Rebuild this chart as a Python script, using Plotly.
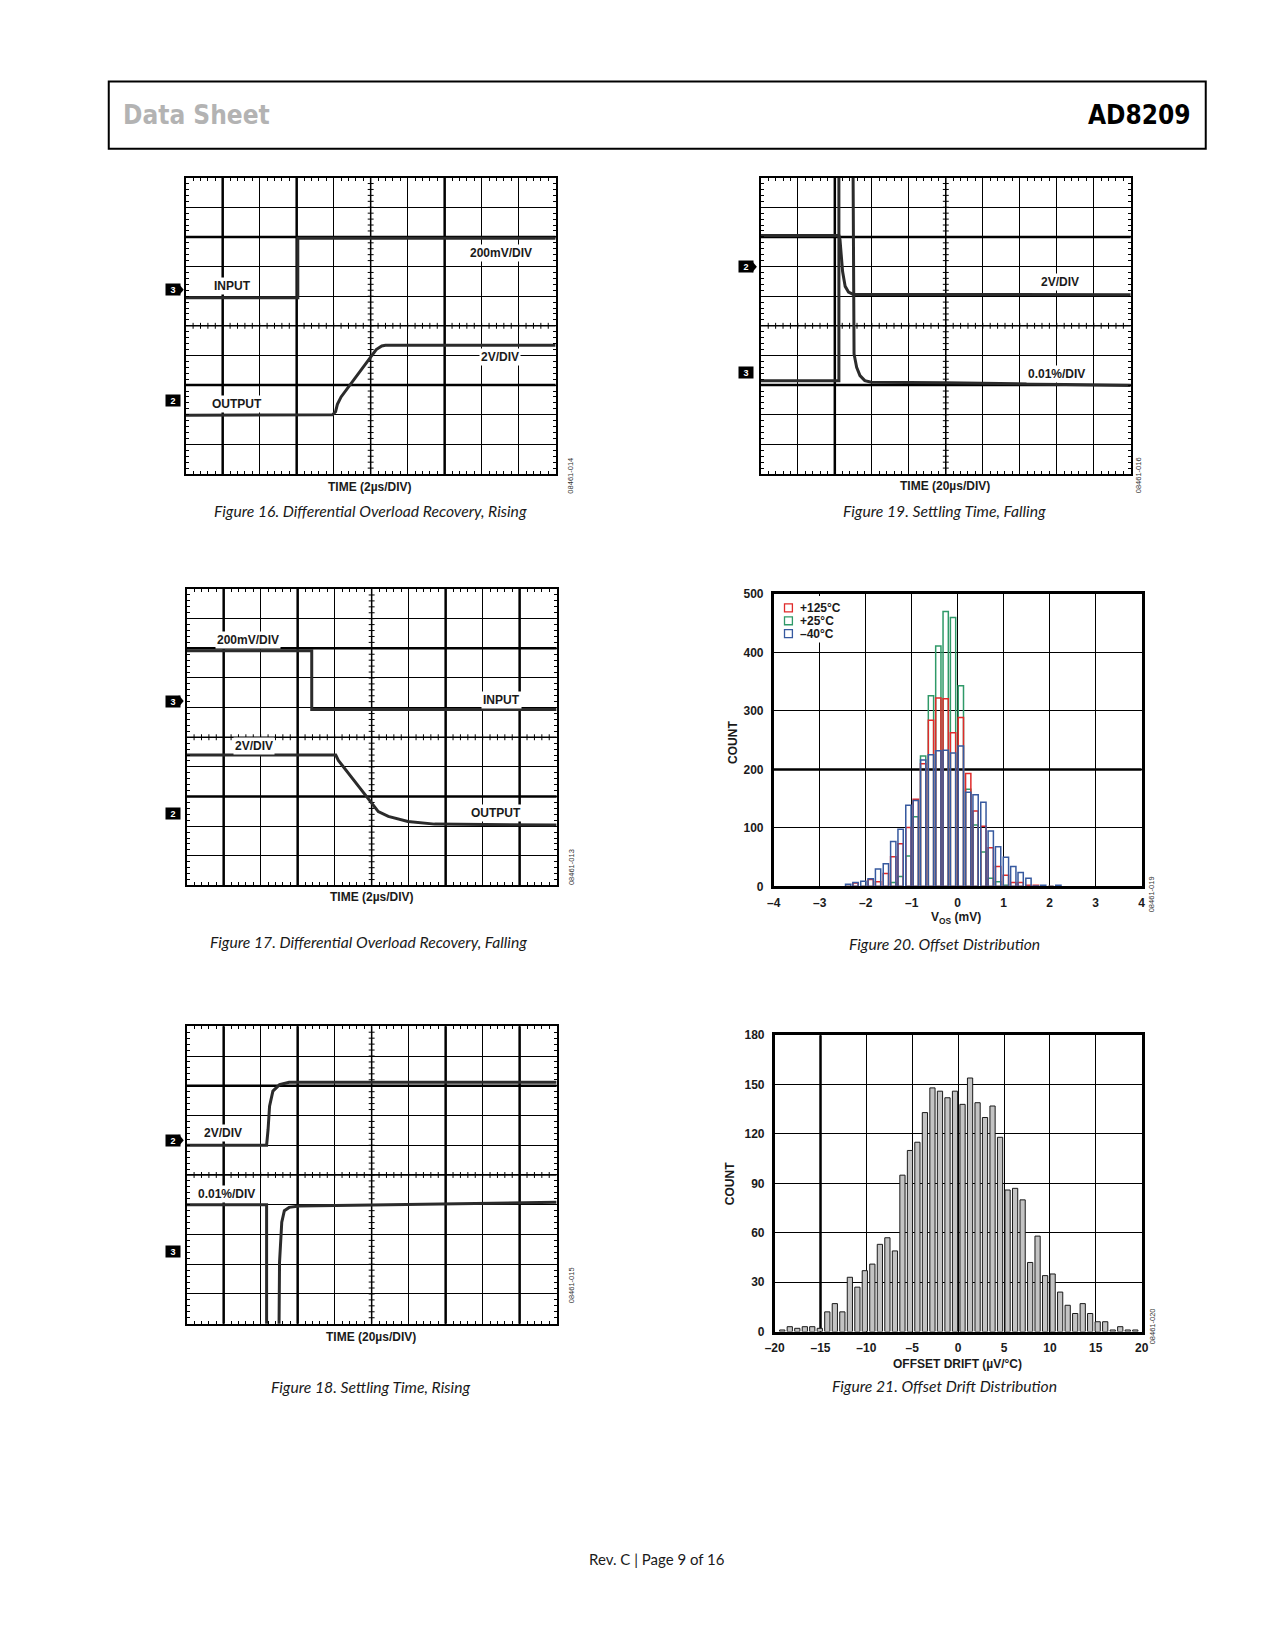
import plotly.graph_objects as go

# the page keeps an 8px body margin, so the figure is drawn 8px in from the corner
PAGE_PAD = 8
W, H = 1275 - 2 * PAGE_PAD, 1650 - 2 * PAGE_PAD


def px(x):
    return (x - PAGE_PAD) / W


def py(y):
    return 1 - (y - PAGE_PAD) / H


# ---------------- scope traces (x, y in screen divisions, 10 x 10 grid) -------------
# Figure 16: differential overload recovery, rising
f16_in_t = [0, 3.03, 3.03, 10]
f16_in_v = [5.95, 5.95, 7.95, 7.95]
f16_out_t = [0, 3.8, 3.97, 4.05, 4.1, 4.2, 5.0, 5.15, 5.3, 5.4, 10]
f16_out_v = [1.98, 1.98, 2.0, 2.1, 2.35, 2.6, 3.95, 4.2, 4.32, 4.34, 4.34]

# Figure 19: settling time, falling
f19_ch2_t = [0, 2.11, 2.14, 2.21, 2.28, 2.37, 2.5, 10]
f19_ch2_v = [8.05, 8.05, 7.9, 6.83, 6.33, 6.14, 6.06, 6.05]
f19_ch3_t = [0, 2.11, 2.11, None, 2.49, 2.52, 2.59, 2.68, 2.81, 2.99, 5.0, 7.0, 10]
f19_ch3_v = [3.15, 3.15, 11, None, 11, 4.05, 3.6, 3.32, 3.15, 3.1, 3.08, 3.05, 2.99]

# Figure 17: differential overload recovery, falling
f17_in_t = [0, 3.38, 3.38, 10]
f17_in_v = [7.92, 7.92, 5.94, 5.94]
f17_out_t = [0, 4.03, 4.1, 5.0, 5.18, 5.45, 5.98, 6.7, 10]
f17_out_v = [4.4, 4.4, 4.22, 2.78, 2.49, 2.33, 2.16, 2.07, 2.04]

# Figure 18: settling time, rising
f18_ch2_t = [0, 2.16, 2.2, 2.24, 2.33, 2.51, 2.77, 10]
f18_ch2_v = [6.0, 6.0, 6.53, 7.31, 7.82, 8.04, 8.12, 8.12]
f18_ch3_t = [0, 2.16, 2.16, None, 2.49, 2.51, 2.57, 2.64, 2.77, 3.04, 5.0, 10]
f18_ch3_v = [4.0, 4.0, -1, None, -1, 2.07, 3.41, 3.8, 3.91, 3.96, 3.99, 4.08]

# ---------------- Figure 20: offset distribution -------------
vos_mv = [-2.38, -2.22, -2.05, -1.89, -1.73, -1.56, -1.40, -1.24, -1.07, -0.91,
          -0.75, -0.58, -0.42, -0.26, -0.10, 0.07, 0.23, 0.39, 0.56, 0.72,
          0.88, 1.05, 1.21, 1.37, 1.54, 1.70, 1.86, 2.03, 2.19]
count_125 = [0, 6, 0, 12, 8, 22, 51, 73, 101, 149, 210, 284, 322, 321, 263,
             289, 193, 129, 103, 66, 34, 19, 7, 7, 2, 2, 0, 0, 0]
count_25 = [0, 0, 0, 0, 0, 0, 7, 17, 52, 119, 223, 326, 411, 470, 460,
            343, 166, 105, 59, 14, 8, 2, 0, 0, 0, 0, 0, 0, 0]
count_m40 = [4, 7, 9, 13, 30, 39, 77, 98, 139, 147, 216, 225, 232, 233, 228,
             240, 161, 157, 144, 95, 68, 50, 34, 24, 14, 1, 2, 0, 2]
vos_ticks = [-4, -3, -2, -1, 0, 1, 2, 3, 4]
vos_ticktext = ["\u20134", "\u20133", "\u20132", "\u20131", "0", "1", "2", "3", "4"]

# ---------------- Figure 21: offset drift distribution -------------
drift_uv = [-19.17, -18.35, -17.53, -16.71, -15.90, -15.08, -14.26, -13.44, -12.62, -11.80,
            -10.98, -10.17, -9.35, -8.53, -7.71, -6.89, -6.07, -5.25, -4.44, -3.62,
            -2.80, -1.98, -1.16, -0.34, 0.48, 1.30, 2.12, 2.93, 3.75, 4.57,
            5.39, 6.21, 7.03, 7.85, 8.66, 9.48, 10.30, 11.12, 11.94, 12.76,
            13.58, 14.39, 15.21, 16.03, 16.85, 17.67, 18.49, 19.31]
drift_count = [1, 3, 2, 3, 3, 2, 12, 17, 12, 33, 27, 37, 41, 53, 57, 49, 95, 110, 115, 133,
               148, 146, 142, 146, 138, 154, 139, 130, 137, 118, 86, 87, 80, 42, 58, 34, 35,
               24, 16, 11, 17, 11, 6, 6, 1, 3, 1, 1]
drift_ticks = [-20, -15, -10, -5, 0, 5, 10, 15, 20]
drift_ticktext = ["\u201320", "\u201315", "\u201310", "\u20135", "0", "5", "10", "15", "20"]

TRACE = "#2b2b2b"
RED, GREEN, BLUE = "#e02a2a", "#2f9968", "#36599f"
SANS = "Liberation Sans, Arial, sans-serif"
BOLD = dict(family=SANS, size=12, color="#1a1a1a", weight="bold")
CAPTION = dict(family="Lato, Open Sans, sans-serif", size=15.7, color="#1a1a1a", style="italic")

fig = go.Figure()
shapes = []
annotations = []
layout = dict(width=W, height=H, margin=dict(l=0, r=0, t=0, b=0),
              paper_bgcolor="white", plot_bgcolor="white", showlegend=False)


def dom(x0, y0, x1, y1):
    return [px(x0), px(x1)], [py(y1), py(y0)]


def label(text, x, y, font=BOLD, bg="white", **kw):
    annotations.append(dict(text=text, x=px(x), y=py(y), xref="paper", yref="paper",
                            showarrow=False, xanchor=kw.pop("xanchor", "center"),
                            yanchor=kw.pop("yanchor", "middle"), font=font,
                            bgcolor=bg, borderpad=1, **kw))


def channel(num, x0, yc, arrow):
    # black tag with the channel number, pointed when it carries the ground marker
    annotations.append(dict(text=num, x=px(x0), y=py(yc), xref="paper", yref="paper",
                            showarrow=False, xanchor="left", yanchor="middle",
                            width=14, height=11, borderpad=0, bgcolor="black",
                            font=dict(family=SANS, size=9, color="white", weight="bold")))
    if arrow:
        path = (f"M{px(x0 + 14)},{py(yc - 6)} L{px(x0 + 19)},{py(yc)} "
                f"L{px(x0 + 14)},{py(yc + 6)} Z")
        shapes.append(dict(type="path", path=path, xref="paper", yref="paper",
                           fillcolor="black", line=dict(width=0)))


def part_no(text, x, y):
    annotations.append(dict(text=text, x=px(x), y=py(y), xref="paper", yref="paper",
                            showarrow=False, textangle=-90,
                            font=dict(family=SANS, size=7.5, color="#333333")))


# ---------------- scope panels ----------------
scopes = [
    dict(n="", box=(178, 172, 553, 471), vthick=[1, 3, 7], hthick=[8, 3],
         traces=[(f16_in_t, f16_in_v), (f16_out_t, f16_out_v)]),
    dict(n="2", box=(761, 172, 1136, 471), vthick=[2], hthick=[8, 3],
         traces=[(f19_ch2_t, f19_ch2_v), (f19_ch3_t, f19_ch3_v)]),
    dict(n="3", box=(179, 587, 554, 886), vthick=[1, 3, 7, 9], hthick=[8, 3],
         traces=[(f17_in_t, f17_in_v), (f17_out_t, f17_out_v)]),
    dict(n="4", box=(179, 1028, 554, 1328), vthick=[1, 3, 7, 9], hthick=[8],
         traces=[(f18_ch2_t, f18_ch2_v), (f18_ch3_t, f18_ch3_v)]),
]

for sc in scopes:
    n = sc["n"]
    xd, yd = dom(*sc["box"])
    common = dict(range=[0, 10], dtick=1, tick0=0, showgrid=True, gridcolor="black",
                  gridwidth=1, zeroline=False, showline=True, linecolor="black",
                  linewidth=2, mirror="allticks", ticks="inside", ticklen=3,
                  tickcolor="black", showticklabels=False, fixedrange=True,
                  minor=dict(dtick=0.2, ticks="inside", ticklen=3, tickcolor="black",
                             showgrid=False))
    layout["xaxis" + n] = dict(domain=xd, anchor="y" + n, **common)
    layout["yaxis" + n] = dict(domain=yd, anchor="x" + n, **common)
    xr, yr = "x" + n, "y" + n
    for v in sc["vthick"]:
        shapes.append(dict(type="line", xref=xr, yref=yr + " domain", x0=v, x1=v, y0=0, y1=1,
                           line=dict(color="black", width=2.5), layer="below"))
    for h in sc["hthick"]:
        shapes.append(dict(type="line", xref=xr + " domain", yref=yr, x0=0, x1=1, y0=h, y1=h,
                           line=dict(color="black", width=2.5), layer="below"))
    # centre graticule with its fine ticks
    marks = [round(0.2 * k, 1) for k in range(1, 50)]
    path = " ".join(f"M4.92,{m} L5.08,{m}" for m in marks)
    path += " " + " ".join(f"M{m},4.9 L{m},5.1" for m in marks)
    shapes.append(dict(type="path", xref=xr, yref=yr, path=path,
                       line=dict(color="black", width=1), layer="below"))
    shapes.append(dict(type="line", xref=xr, yref=yr + " domain", x0=5, x1=5, y0=0, y1=1,
                       line=dict(color="black", width=1.5), layer="below"))
    shapes.append(dict(type="line", xref=xr + " domain", yref=yr, x0=0, x1=1, y0=5, y1=5,
                       line=dict(color="black", width=1.5), layer="below"))
    for t, v in sc["traces"]:
        fig.add_trace(go.Scatter(x=t, y=v, mode="lines", line=dict(color=TRACE, width=3),
                                 xaxis=xr, yaxis=yr, hoverinfo="skip", connectgaps=False))

# Figure 16 labels
channel("3", 157, 285, True)
channel("2", 157, 397, False)
label("INPUT", 225, 281)
label("OUTPUT", 230, 400)
label("200mV/DIV", 498, 248)
label("2V/DIV", 497, 353)
label("TIME (2\u00b5s/DIV)", 365, 484)
part_no("08461-014", 568, 452)
label("Figure 16. Differential Overload Recovery, Rising", 365, 508, font=CAPTION)

# Figure 19 labels
channel("2", 738, 262, True)
channel("3", 738, 369, False)
label("2V/DIV", 1064, 277)
label("0.01%/DIV", 1061, 370)
label("TIME (20\u00b5s/DIV)", 948, 483)
part_no("08461-016", 1150, 452)
label("Figure 19. Settling Time, Falling", 947, 508, font=CAPTION)

# Figure 17 labels
channel("3", 157, 700, True)
channel("2", 157, 813, False)
label("200mV/DIV", 241, 638)
label("INPUT", 498, 699)
label("2V/DIV", 247, 745)
label("OUTPUT", 493, 813)
label("TIME (2\u00b5s/DIV)", 367, 898)
part_no("08461-013", 569, 867)
label("Figure 17. Differential Overload Recovery, Falling", 363, 943, font=CAPTION)

# Figure 18 labels
channel("2", 157, 1143, True)
channel("3", 157, 1255, False)
label("2V/DIV", 216, 1136)
label("0.01%/DIV", 219, 1197)
label("TIME (20\u00b5s/DIV)", 366, 1341)
part_no("08461-015", 569, 1309)
label("Figure 18. Settling Time, Rising", 365, 1392, font=CAPTION)

# ---------------- Figure 20 ----------------
xd, yd = dom(774, 592, 1147, 887)
hist_axis = dict(showgrid=True, gridcolor="black", gridwidth=1, zeroline=False,
                 showline=True, linecolor="black", linewidth=2.5, mirror=True,
                 ticks="", tickfont=BOLD, fixedrange=True)
layout["xaxis5"] = dict(domain=xd, anchor="y5", range=[-4, 4], tickvals=vos_ticks,
                        ticktext=vos_ticktext, ticklabelstandoff=3, **hist_axis)
layout["yaxis5"] = dict(domain=yd, anchor="x5", range=[0, 500], dtick=100,
                        ticklabelstandoff=5, **hist_axis)
shapes.append(dict(type="line", xref="x5 domain", yref="y5", x0=0, x1=1, y0=200, y1=200,
                   line=dict(color="black", width=2.5), layer="below"))
# white patch behind the key, as in the original
shapes.append(dict(type="rect", xref="paper", yref="paper", x0=px(776), x1=px(845),
                   y0=py(641), y1=py(594), fillcolor="white", line=dict(width=0),
                   layer="above"))
for name, counts, col in [("+25\u00b0C", count_25, GREEN), ("+125\u00b0C", count_125, RED),
                          ("\u201340\u00b0C", count_m40, BLUE)]:
    fig.add_trace(go.Bar(x=vos_mv, y=counts, width=0.115, name=name, xaxis="x5", yaxis="y5",
                         marker=dict(color="rgba(0,0,0,0)", line=dict(color=col, width=1.5)),
                         hoverinfo="skip"))
for i, (name, col) in enumerate([("+125\u00b0C", RED), ("+25\u00b0C", GREEN),
                                 ("\u201340\u00b0C", BLUE)]):
    yc = 606 + 13 * i
    shapes.append(dict(type="rect", xref="paper", yref="paper", x0=px(785), x1=px(793),
                       y0=py(yc - 4), y1=py(yc + 4), line=dict(color=col, width=1.3),
                       fillcolor="white"))
    label(name, 799, yc, xanchor="left", bg="rgba(0,0,0,0)")
label("COUNT", 732, 742, textangle=-90, bg="rgba(0,0,0,0)")
label("V<sub>OS</sub> (mV)", 959, 919, bg="rgba(0,0,0,0)")
part_no("08461-019", 1163, 895)
label("Figure 20. Offset Distribution", 947, 945, font=CAPTION)

# ---------------- Figure 21 ----------------
xd, yd = dom(775, 1037, 1147, 1336)
layout["xaxis6"] = dict(domain=xd, anchor="y6", range=[-20, 20], tickvals=drift_ticks,
                        ticktext=drift_ticktext, ticklabelstandoff=3, **hist_axis)
layout["yaxis6"] = dict(domain=yd, anchor="x6", range=[0, 180], dtick=30,
                        ticklabelstandoff=5, **hist_axis)
shapes.append(dict(type="line", xref="x6", yref="y6 domain", x0=-15, x1=-15, y0=0, y1=1,
                   line=dict(color="black", width=2.5), layer="below"))
fig.add_trace(go.Bar(x=drift_uv, y=drift_count, width=0.57, xaxis="x6", yaxis="y6",
                     marker=dict(color="#c3c3c3", line=dict(color="#1a1a1a", width=1)),
                     hoverinfo="skip"))
label("COUNT", 730, 1187, textangle=-90, bg="rgba(0,0,0,0)")
label("OFFSET DRIFT (\u00b5V/\u00b0C)", 960, 1369, bg="rgba(0,0,0,0)")
part_no("08461-020", 1165, 1351)
label("Figure 21. Offset Drift Distribution", 947, 1391, font=CAPTION)

# ---------------- page header / footer ----------------
shapes.append(dict(type="rect", xref="paper", yref="paper", x0=px(100), x1=px(1212),
                   y0=py(143), y1=py(75), line=dict(color="black", width=2)))
HEAD = "DejaVu Sans Condensed, Liberation Sans, sans-serif"
label("Data Sheet", 112, 109, font=dict(family=HEAD, size=26, color="#b3b3b3", weight="bold"),
      xanchor="left", bg="rgba(0,0,0,0)")
label("AD8209", 1199, 109, font=dict(family=HEAD, size=26, color="black", weight="bold"),
      xanchor="right", bg="rgba(0,0,0,0)")
label("Rev. C | Page 9 of 16", 656, 1565,
      font=dict(family="Lato, Open Sans, sans-serif", size=15, color="#1a1a1a"),
      bg="rgba(0,0,0,0)")

layout["shapes"] = shapes
layout["annotations"] = annotations
layout["barmode"] = "overlay"
fig.update_layout(**layout)

fig.write_html("out.html", config={"displayModeBar": False})
